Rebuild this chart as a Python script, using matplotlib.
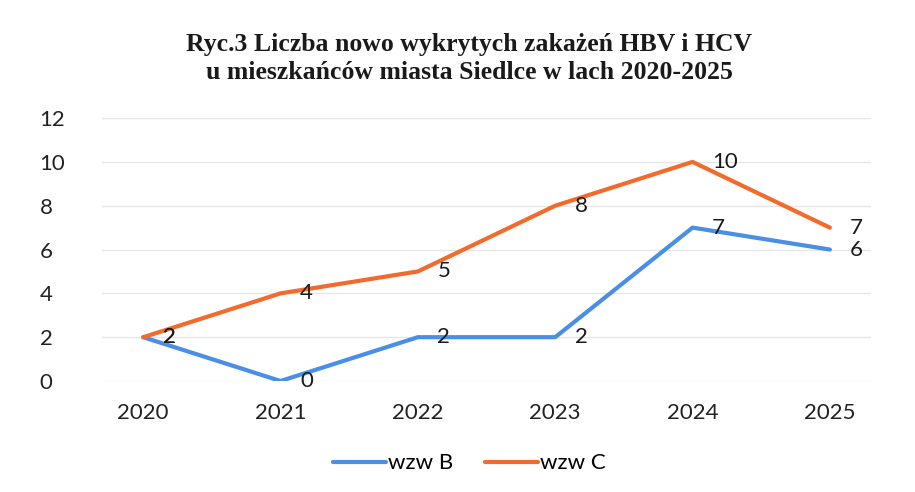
import matplotlib
matplotlib.use('Agg')
import matplotlib.pyplot as plt

years = ['2020', '2021', '2022', '2023', '2024', '2025']
wzw_b = [2, 0, 2, 2, 7, 6]
wzw_c = [2, 4, 5, 8, 10, 7]
yticks = [0, 2, 4, 6, 8, 10, 12]

title = ('Ryc.3 Liczba nowo wykrytych zakażeń HBV i HCV\n'
         'u mieszkańców miasta Siedlce w lach 2020-2025')

blue = '#4A8EE6'
orange = '#F26B2C'

plt.rcParams['font.family'] = ['Lato', 'DejaVu Sans']

fig = plt.figure(figsize=(9.15, 4.92), dpi=100)
ax = fig.add_axes([0.1115, 0.2256, 0.8405, 0.5344])

x = list(range(len(years)))
ax.plot(x, wzw_b, color=blue, lw=3, solid_capstyle='round', label='wzw B', zorder=3)
ax.plot(x, wzw_c, color=orange, lw=3, solid_capstyle='round', label='wzw C', zorder=3)

for xi, v in zip(x, wzw_b):
    ax.annotate(str(v), (xi, v), xytext=(14, 0), textcoords='offset points',
                ha='left', va='center', fontsize=16, color='#1a1a1a', zorder=4)
for xi, v in zip(x, wzw_c):
    ax.annotate(str(v), (xi, v), xytext=(14, 0), textcoords='offset points',
                ha='left', va='center', fontsize=16, color='#1a1a1a', zorder=4)

ax.set_xlim(-0.3, 5.3)
ax.set_ylim(0, 12)
ax.set_xticks(x)
ax.set_xticklabels(years)
ax.set_yticks(yticks)
ax.tick_params(length=0, labelsize=16, colors='#222222')
ax.tick_params(axis='x', pad=16)
ax.tick_params(axis='y', pad=45)
for lbl in ax.get_yticklabels():
    lbl.set_horizontalalignment('left')
ax.grid(axis='y', color='#e6e6e6', lw=1)
ax.set_axisbelow(True)
for s in ax.spines.values():
    s.set_visible(False)

fig.text(0.513, 0.881, title, ha='center', va='center', fontsize=18.5,
         fontweight='bold', family='Liberation Serif', color='#1a1a1a',
         linespacing=1.25)

fig.legend(loc='center', bbox_to_anchor=(0.513, 0.058), ncol=2, frameon=False,
           fontsize=16, handlelength=2.4, handletextpad=0.1, columnspacing=1.4)

fig.savefig('out.png', dpi=100)
